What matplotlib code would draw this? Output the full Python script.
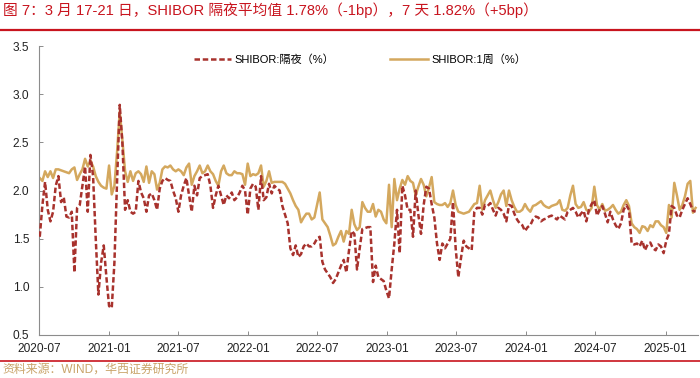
import matplotlib
matplotlib.use("Agg")
import matplotlib.pyplot as plt
import matplotlib.dates as mdates
import pandas as pd
import numpy as np

plt.rcParams['font.family'] = ['Liberation Sans', 'Noto Sans CJK SC', 'DejaVu Sans']

start_date = '2020-07-03'
n_weeks = 247

shibor_1w = [
    2.13, 2.10, 2.20, 2.14, 2.20, 2.13, 2.22, 2.22, 2.21, 2.20, 2.19, 2.18, 2.22, 2.24, 2.11, 2.17,
    2.22, 2.33, 2.25, 2.31, 2.25, 2.15, 2.09, 2.05, 2.03, 2.02, 2.26, 1.96, 2.05, 2.40, 2.82, 2.52,
    2.20, 2.09, 2.20, 2.10, 2.18, 2.20,
    2.17, 2.09, 2.25, 2.08, 2.20, 2.17, 2.01, 2.08, 2.22, 2.25, 2.24, 2.26, 2.22, 2.20, 2.22, 2.20,
    2.16, 2.24, 2.28, 2.06, 2.15, 2.20, 2.26, 2.18, 2.20, 2.26, 2.20, 2.17, 2.10, 2.05, 2.20, 2.26,
    2.18, 2.16,
    2.16, 2.20, 2.18, 2.18, 2.17, 2.06, 2.28, 2.15, 2.17, 2.16, 2.18, 2.26, 2.04, 2.10, 2.20, 2.08,
    2.09, 2.09, 2.09, 2.09, 2.07, 2.02, 1.97, 1.90, 1.84, 1.80, 1.67, 1.72, 1.76, 1.76, 1.70, 1.72,
    1.85, 1.98, 1.70, 1.66, 1.62, 1.53, 1.43, 1.45, 1.52, 1.58, 1.47, 1.58, 1.55, 1.80, 1.65, 1.59,
    1.62, 1.88, 1.82, 1.78, 1.78, 1.86, 1.73, 1.80, 1.78, 1.70, 1.66, 2.06, 1.62, 2.12, 1.90, 2.02,
    2.11, 2.06, 2.15, 2.10, 2.08, 1.95, 2.04, 2.12, 2.06, 1.94, 2.03, 2.14, 1.88, 1.86, 1.85, 1.85,
    1.87, 1.83,
    1.87, 2.00, 1.85, 1.78, 1.77, 1.76, 1.77, 1.78, 1.82, 1.86, 1.87, 2.05, 1.80, 1.90, 1.95, 2.00,
    1.90, 1.82, 1.88, 1.96, 2.00, 1.84, 2.00, 1.90, 1.83, 1.78, 1.78, 1.80, 1.86, 1.81, 1.78, 1.84,
    1.85, 1.87, 1.89, 1.85, 1.83, 1.82, 1.84, 1.85, 1.86, 1.90, 1.80, 1.79, 1.82, 1.95, 2.05, 1.86,
    1.82, 1.83, 1.88, 1.80, 1.78, 1.82, 2.04, 1.85, 1.80, 1.86, 1.79, 1.80, 1.82, 1.85, 1.80, 1.76,
    1.78, 1.85, 1.90, 1.84, 1.66, 1.62, 1.60, 1.56, 1.63, 1.62, 1.58, 1.64, 1.62, 1.68, 1.68, 1.64,
    1.62, 1.56, 1.85, 1.72, 2.08, 1.95, 1.80, 1.85, 1.94, 2.07, 2.10, 1.77, 1.82,
]

shibor_on = [
    1.52, 1.85, 2.09, 1.80, 1.68, 1.78, 2.05, 2.15, 1.88, 1.93, 1.73, 1.72, 1.78, 1.15, 1.82, 1.85,
    2.05, 2.25, 1.78, 2.37, 2.15, 1.50, 0.92, 1.25, 1.43, 1.10, 0.80, 0.78, 1.25, 2.10, 2.89, 2.49,
    1.80, 1.90, 1.78, 1.76, 1.78, 2.10,
    1.98, 1.92, 1.78, 1.95, 1.97, 1.90, 1.80, 2.02, 2.10, 2.13, 2.11, 2.10, 2.00, 1.92, 1.78, 1.95,
    2.05, 2.13, 1.95, 1.78, 2.05, 1.95, 2.13, 2.15, 2.16, 2.17, 2.05, 1.82, 1.95, 2.05, 1.95, 1.85,
    1.95, 1.92,
    1.98, 1.90, 1.93, 1.98, 2.05, 2.00, 1.75, 2.02, 2.07, 2.04, 1.80, 2.15, 1.90, 1.93, 2.07, 1.97,
    2.05, 2.02, 2.00, 1.84, 1.75, 1.66, 1.40, 1.33, 1.43, 1.31, 1.34, 1.42, 1.45, 1.42, 1.42, 1.45,
    1.50, 1.52, 1.26, 1.18, 1.14, 1.10, 1.04, 1.08, 1.15, 1.22, 1.28, 1.15, 1.38, 1.58, 1.55, 1.18,
    1.40, 1.60, 1.61, 1.62, 1.62, 1.05, 1.22, 1.10, 1.08, 1.06, 0.96, 0.88, 1.18, 1.45, 1.80, 1.35,
    2.05, 1.95, 1.80, 1.80, 1.52, 2.00, 1.75, 1.55, 1.85, 2.04, 2.02, 1.86, 1.72, 1.45, 1.28, 1.45,
    1.40, 1.45,
    1.50, 1.88, 1.40, 1.10, 1.30, 1.48, 1.42, 1.40, 1.38, 1.78, 1.82, 1.82, 1.75, 1.85, 1.84, 1.87,
    1.80, 1.74, 1.82, 1.80, 1.76, 1.68, 1.85, 1.84, 1.76, 1.70, 1.66, 1.64, 1.58, 1.62, 1.64, 1.70,
    1.73, 1.72, 1.68, 1.70, 1.71, 1.73, 1.74, 1.72, 1.70, 1.74, 1.72, 1.70, 1.78, 1.80, 1.82, 1.78,
    1.72, 1.76, 1.79, 1.68, 1.80, 1.86, 1.90, 1.74, 1.80, 1.84, 1.76, 1.67, 1.78, 1.70, 1.64, 1.60,
    1.66, 1.80, 1.85, 1.80, 1.45, 1.44, 1.45, 1.42, 1.48, 1.38, 1.44, 1.46, 1.40, 1.38, 1.44, 1.42,
    1.35, 1.48, 1.55, 1.84, 1.82, 1.74, 1.72, 1.80, 1.86, 1.92, 1.86, 1.79, 1.78,
]

label_on = 'SHIBOR:隔夜（%）'
label_1w = 'SHIBOR:1周（%）'
x_ticks = ['2020-07-01', '2021-01-01', '2021-07-01', '2022-01-01', '2022-07-01',
           '2023-01-01', '2023-07-01', '2024-01-01', '2024-07-01', '2025-01-01']
y_ticks = [0.5, 1.0, 1.5, 2.0, 2.5, 3.0, 3.5]
title = '图 7：3 月 17-21 日，SHIBOR 隔夜平均值 1.78%（-1bp），7 天 1.82%（+5bp）'
source = '资料来源：WIND，华西证券研究所'

dates = pd.date_range(start_date, periods=n_weeks, freq='7D')
n1 = min(len(dates), len(shibor_1w))
n2 = min(len(dates), len(shibor_on))

fig = plt.figure(figsize=(7, 3.78), dpi=100)
ax = fig.add_axes([0.0557, 0.1138, 0.9413, 0.7642])

gold = '#D4A85E'
red = '#A8322D'
l2, = ax.plot(dates[:n1], shibor_1w[:n1], color=gold, lw=1.8, label=label_1w, zorder=2)
l1, = ax.plot(dates[:n2], shibor_on[:n2], color=red, lw=1.8, ls=(0, (2.2, 1.1)), label=label_on, zorder=3)

ax.set_ylim(0.5, 3.5)
ax.set_yticks(y_ticks)
ax.set_yticklabels([f'{v:.1f}' for v in y_ticks])
ax.set_xlim(pd.Timestamp('2020-07-01'), pd.Timestamp('2025-03-27'))
ax.set_xticks([pd.Timestamp(t) for t in x_ticks])
ax.xaxis.set_major_formatter(mdates.DateFormatter('%Y-%m'))

for s in ['top', 'right']:
    ax.spines[s].set_visible(False)
for s in ['left', 'bottom']:
    ax.spines[s].set_color('#8c8c8c')
    ax.spines[s].set_linewidth(0.8)
ax.tick_params(axis='both', direction='in', length=3, width=0.7, color='#8c8c8c',
               labelsize=8.6, labelcolor='#222222')
ax.tick_params(axis='x', pad=6)
ax.tick_params(axis='y', pad=7)

ax.legend(handles=[l1, l2], loc='upper center', bbox_to_anchor=(0.487, 1.005), ncol=2,
          frameon=False, fontsize=8, handlelength=3.4, columnspacing=5.0, handletextpad=0.3)

fig.text(0.004, 0.974, title, color='#C8141E', fontsize=10.6, ha='left', va='center')
fig.add_artist(plt.Line2D([0, 1], [0.921, 0.921], color='#C8141E', lw=1.6, transform=fig.transFigure))
fig.add_artist(plt.Line2D([0, 1], [0.045, 0.045], color='#C8141E', lw=1.2, transform=fig.transFigure))
fig.text(0.004, 0.021, source, color='#C9A46A', fontsize=8.6, ha='left', va='center')

fig.savefig('out.png', dpi=100)
